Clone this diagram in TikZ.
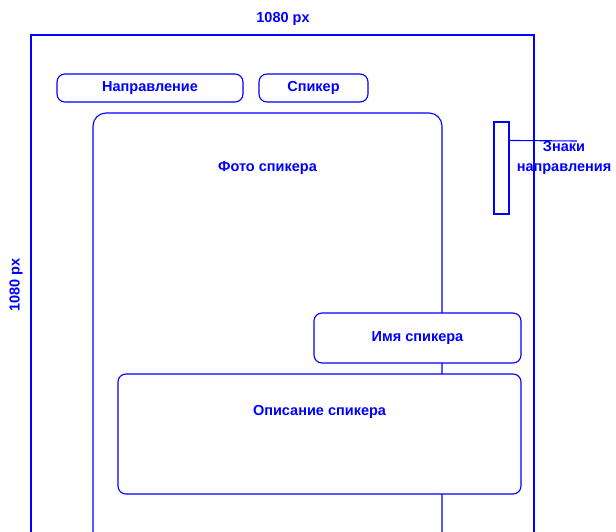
\documentclass[tikz,border=0pt]{standalone}
\usepackage{fontspec}
\setmainfont{Liberation Sans}
\usetikzlibrary{positioning}

\begin{document}
\begin{tikzpicture}[x=1pt,y=-1pt,line width=1.1pt,
                    frame/.style={draw=blue},
                    block/.style={draw=blue,fill=white,rounded corners=8pt,inner sep=0pt,
                                  text=blue,font=\bfseries\fontsize{14.5}{17}\selectfont},
                    caption/.style={text=blue,inner sep=0pt,font=\bfseries\fontsize{14.5}{20}\selectfont}]
  \useasboundingbox (0,0) rectangle (616,531);
  \clip (0,0) rectangle (616,531);
  % outer frame, open at the bottom
  \node[frame,minimum width=503pt,minimum height=565pt] (post) at (282.5,317.5) {};
  \node[caption] (wlabel) at (283,19) {1080 px};
  \node[caption,rotate=90] (hlabel) at (16,285) {1080 px};
  % top tags
  \node[block,minimum width=186pt,minimum height=28pt] (direction) at (150,88) {Направление};
  \node[block,minimum width=109pt,minimum height=28pt] (speaker) at (313.5,88) {Спикер};
  % photo area
  \node[block,rounded corners=13pt,minimum width=349pt,minimum height=432pt] (photo) at (267.5,329) {};
  \node[caption,below=48pt of photo.north] (phototext) {Фото спикера};
  \node[block,minimum width=207pt,minimum height=50pt] (name) at (417.5,338) {Имя спикера};
  \node[block,minimum width=403pt,minimum height=120pt] (descr) at (319.5,434) {};
  \node[caption,below=31pt of descr.north] (descrtext) {Описание спикера};
  % direction signs
  \node[frame,fill=white,minimum width=15pt,minimum height=92pt] (signs) at (501.5,168) {};
  \coordinate (signtip) at (577,141);
  \draw[blue] ([yshift=-19pt]signs.north east) -- (signtip);
  \node[caption,align=center] (signtext) at (564,158) {Знаки\\направления};
\end{tikzpicture}
\end{document}
